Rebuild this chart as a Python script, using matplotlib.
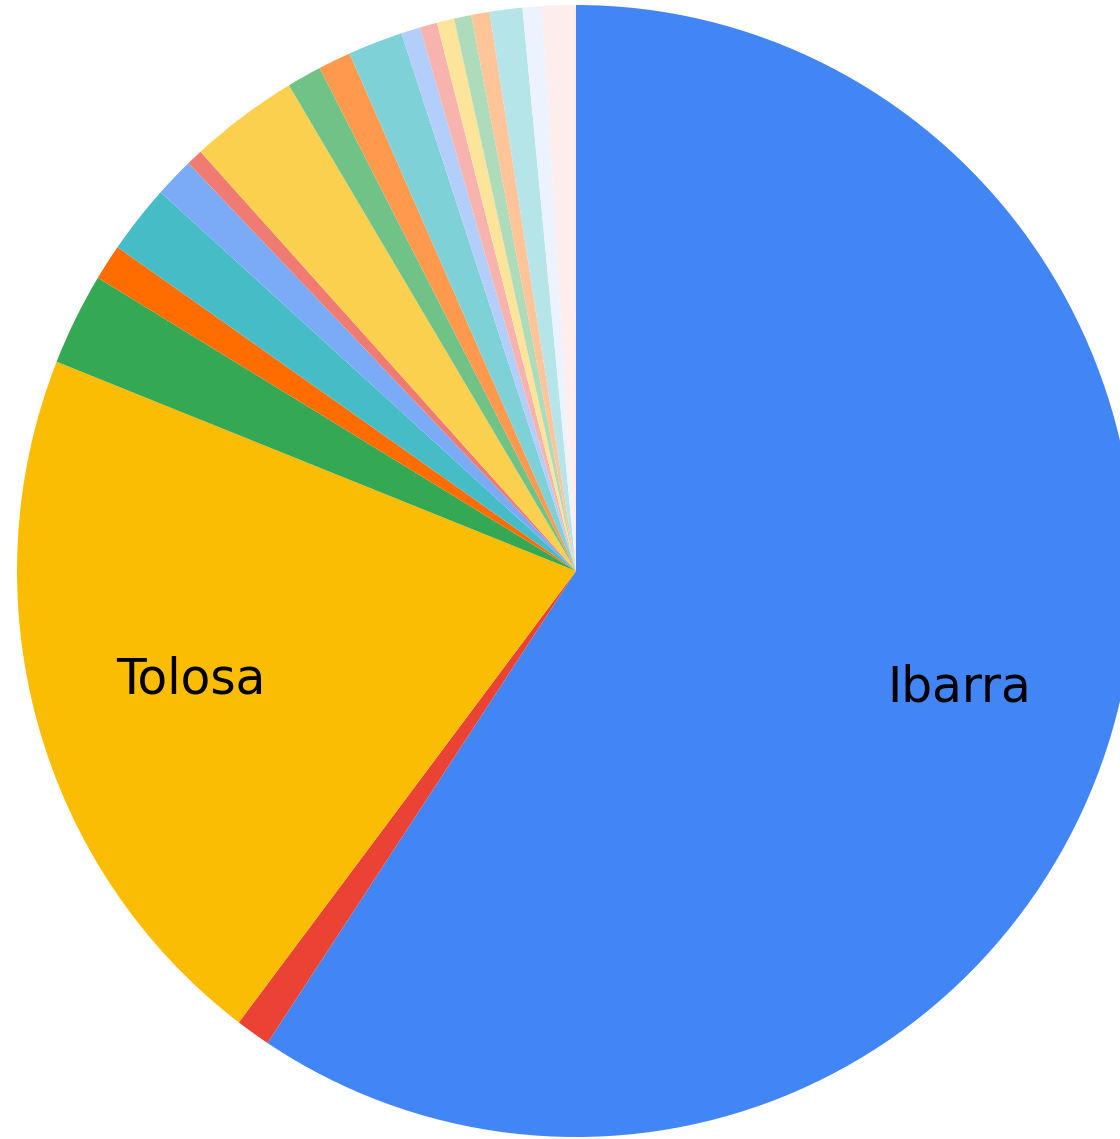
import matplotlib
matplotlib.use("Agg")
import matplotlib.pyplot as plt

# Slice values (degrees of the pie), clockwise from 12 o'clock
labels = ["Ibarra", "", "Tolosa", "", "", "", "", "", "", "",
          "", "", "", "", "", "", "", "", "", ""]
values = [213.5, 3.6, 74.6, 9.5, 3.7, 7.1, 4.1, 1.7, 11.3, 3.6,
          3.4, 5.7, 2.0, 1.8, 1.8, 1.8, 1.9, 3.4, 2.0, 3.5]
colors = ["#4285F4", "#EA4335", "#FBBC04", "#34A853", "#FF6D01", "#46BDC6",
          "#7BAAF7", "#F07B72", "#FCD04F", "#71C287", "#FF994D", "#7ED1D7",
          "#B3CEFB", "#F7B4AE", "#FDE49B", "#AEDCBA", "#FFC599", "#B5E5E8",
          "#ECF3FE", "#FDEDEC"]

W, H = 1120, 1139
RX, RY = 559.0, 566.0          # horizontal / vertical radius in pixels
sy = RX / RY                   # y data units per pixel
fig = plt.figure(figsize=(W / 100, H / 100), dpi=100)
ax = fig.add_axes([0, 0, 1, 1])

cx, cy_img = 576, 571
wedges, texts = ax.pie(values, labels=labels, colors=colors, startangle=90,
                       counterclock=False, radius=RX,
                       center=(cx, (H - cy_img) * sy),
                       labeldistance=0.715, frame=True,
                       wedgeprops=dict(linewidth=0),
                       textprops=dict(fontsize=35, color="black",
                                      family=["DejaVu Sans"]))
for t in texts:
    t.set_ha("center")
    t.set_va("center")
ax.set_aspect("auto")
ax.set_xlim(0, W)
ax.set_ylim(0, H * sy)
ax.axis("off")

fig.savefig("out.png", dpi=100, facecolor="white")
